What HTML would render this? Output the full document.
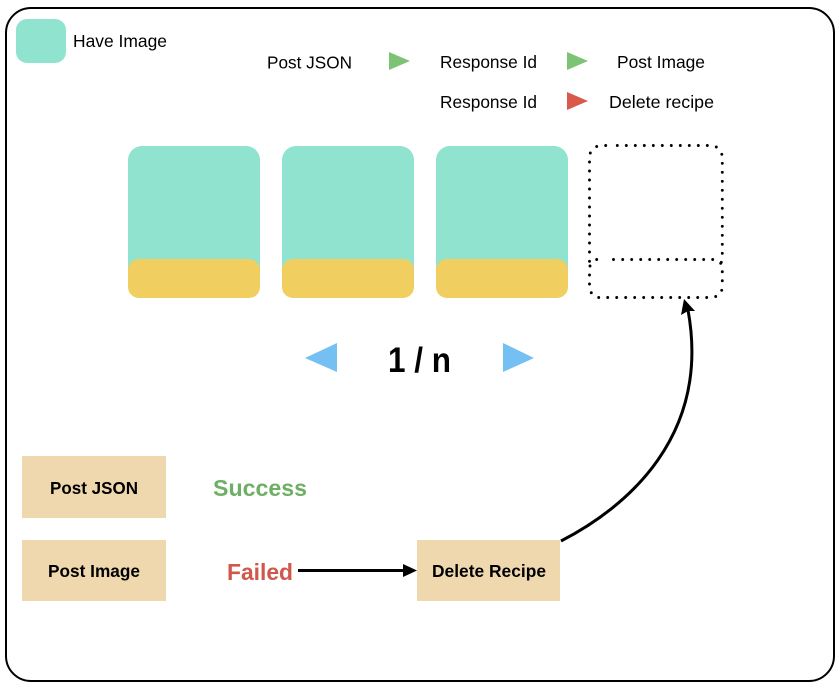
<!DOCTYPE html>
<html>
<head>
<meta charset="utf-8">
<style>
html,body{margin:0;padding:0;background:#fff;width:838px;height:687px;overflow:hidden}
svg{display:block}
text{font-family:"Liberation Sans",sans-serif;fill:#000}
.r{font-size:17.500px}
.b{font-size:17.500px;font-weight:bold}
</style>
</head>
<body>
<svg width="838" height="687" viewBox="0 0 838 687" xmlns="http://www.w3.org/2000/svg">
<rect x="6" y="8" width="828" height="673" rx="25" fill="#fff" stroke="#000" stroke-width="2"/>
<rect x="16" y="19" width="50" height="44" rx="11" fill="#8FE3CF"/>
<text class="r" x="73" y="47" textLength="94" lengthAdjust="spacingAndGlyphs">Have Image</text>
<text class="r" x="267" y="68.500" textLength="85" lengthAdjust="spacingAndGlyphs">Post JSON</text>
<polygon points="389,52 410,61 389,70" fill="#7DC374"/>
<text class="r" x="440" y="68" textLength="97" lengthAdjust="spacingAndGlyphs">Response Id</text>
<polygon points="567,52 588,61 567,70" fill="#7DC374"/>
<text class="r" x="617" y="68" textLength="88" lengthAdjust="spacingAndGlyphs">Post Image</text>
<text class="r" x="440" y="108" textLength="97" lengthAdjust="spacingAndGlyphs">Response Id</text>
<polygon points="567,92 588,101 567,110" fill="#D9594A"/>
<text class="r" x="609" y="108" textLength="105" lengthAdjust="spacingAndGlyphs">Delete recipe</text>
<rect x="128" y="146" width="132" height="152" rx="14" fill="#8FE3CF"/>
<rect x="128" y="259" width="132" height="39" rx="11" fill="#F0CE60"/>
<rect x="282" y="146" width="132" height="152" rx="14" fill="#8FE3CF"/>
<rect x="282" y="259" width="132" height="39" rx="11" fill="#F0CE60"/>
<rect x="436" y="146" width="132" height="152" rx="14" fill="#8FE3CF"/>
<rect x="436" y="259" width="132" height="39" rx="11" fill="#F0CE60"/>
<path fill="none" stroke="#000" stroke-width="2.900" stroke-linecap="round" d="
M590.300 153h0 M596.700 146.500h0 M605.700 145.500h0 M617.300 145.500h0 M626.300 145.500h0 M635.300 145.500h0 M644.300 145.500h0 M653.300 145.500h0 M662.300 145.500h0 M671.300 145.500h0 M680.300 145.500h0 M689.300 145.500h0 M698.300 145.500h0 M707.300 145.500h0 M716.300 147h0
M721.800 154.300h0 M722.300 163.300h0 M722.300 172.300h0 M722.300 181.300h0 M722.300 190.300h0 M722.300 199.300h0 M722.300 208.300h0 M722.300 217.300h0 M722.300 226.300h0 M722.300 235.300h0 M722.300 244.300h0 M722.300 253.300h0 M721.300 262.300h0 M722.300 271.700h0 M722.300 280.700h0 M721.700 290.300h0
M715.700 296.500h0 M706.700 297.500h0 M697.700 297.500h0 M688.700 297.500h0 M679.700 297.500h0 M670.700 297.500h0 M661.700 297.500h0 M652.700 297.500h0 M643.700 297.500h0 M634.700 297.500h0 M625.700 297.500h0 M616.700 297.500h0 M607.700 297.500h0 M598.700 297.500h0 M591.300 292.700h0
M589.500 284h0 M589.500 275h0 M590 266h0 M589.500 261.300h0 M589.500 252h0 M589.500 243h0 M589.500 234h0 M589.500 225h0 M589.500 216h0 M589.500 207h0 M589.500 198h0 M589.500 189h0 M589.500 180h0 M589.500 171h0 M589.500 162h0
M596.700 259.500h0 M613.500 259.500h0 M622.700 259.500h0 M631.700 259.500h0 M640.700 259.500h0 M649.700 259.500h0 M658.700 259.500h0 M667.700 259.500h0 M676.700 259.500h0 M685.700 259.500h0 M694.700 259.500h0 M703.700 259.500h0 M712.700 259.500h0 M720.700 263.300h0"/>
<polygon points="305,358 337,343 337,372" fill="#75C0F2"/>
<polygon points="503,343 534,358 503,372" fill="#75C0F2"/>
<text x="388" y="372" font-size="35" font-weight="bold" textLength="63" lengthAdjust="spacingAndGlyphs">1 / n</text>
<rect x="22" y="456" width="144" height="62" fill="#F0D8AE"/>
<text class="b" x="50" y="494" textLength="88" lengthAdjust="spacingAndGlyphs">Post JSON</text>
<rect x="22" y="540" width="144" height="61" fill="#F0D8AE"/>
<text class="b" x="48" y="577" textLength="92" lengthAdjust="spacingAndGlyphs">Post Image</text>
<rect x="417" y="540" width="143" height="61" fill="#F0D8AE"/>
<text class="b" x="432" y="577" textLength="114" lengthAdjust="spacingAndGlyphs">Delete Recipe</text>
<text x="213" y="496" font-size="23" font-weight="bold" style="fill:#6DAF65" textLength="94" lengthAdjust="spacingAndGlyphs">Success</text>
<text x="227" y="580" font-size="23" font-weight="bold" style="fill:#D0574B" textLength="66" lengthAdjust="spacingAndGlyphs">Failed</text>
<line x1="298" y1="570.500" x2="405" y2="570.500" stroke="#000" stroke-width="3"/>
<polygon points="403,564 417,570.500 403,577" fill="#000"/>
<path d="M561 541 C627 507 711 436 688 310" fill="none" stroke="#000" stroke-width="3"/>
<polygon points="684,299 695,311 688,311 681,315" fill="#000"/>
</svg>
</body>
</html>
